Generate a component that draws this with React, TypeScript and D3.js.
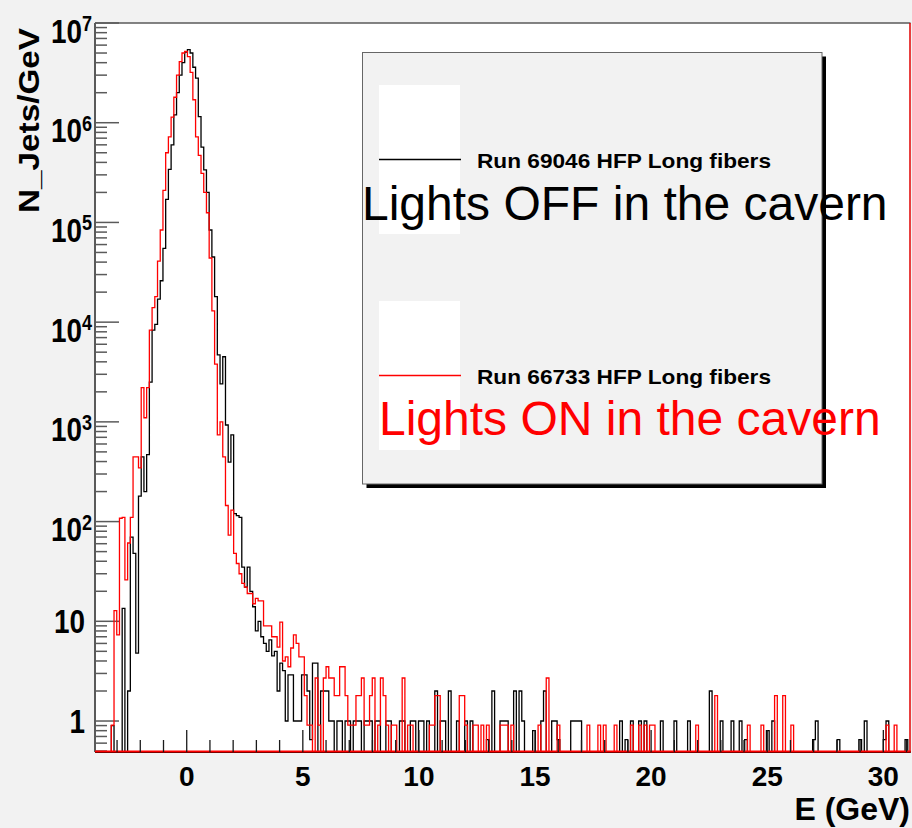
import React from "react";
import * as d3 from "d3";

// Canvas and histogram binning
const W = 912;
const H = 828;
const X_MIN = -3.95;
const X_MAX = 31.17;
const N_BINS = 300;
const Y_MIN = 0.489;
const Y_MAX = 1e7;

// Run 69046 (lights off): dense bins from the first bin, then sparse [bin, value] entries
const offCore = [
  0, 0, 0, 0, 0, 0, 0.9, 0, 0, 0,
  13.5, 0, 2, 70, 48, 4.8, 180, 445, 200, 470,
  2500, 8300, 9500, 17000, 26000, 55000, 170000, 340000, 600000, 1.2e6,
  2.0e6, 3.0e6, 4.0e6, 5.1e6, 5.4e6, 5.0e6, 3.6e6, 2.8e6, 1.15e6, 570000,
  336000, 200000, 84000, 45000, 18000, 4700, 2400, 4500, 930, 395,
  740, 120, 115, 110, 35, 22, 35, 20, 14, 8,
  10, 7, 6, 5, 6.5, 4.5, 5, 2, 3.8, 3.2,
  1, 2.9, 2.9, 1, 1, 1, 2.9, 2.9, 2, 0.65,
  3.8, 3.8, 0, 2, 2, 2, 1, 1, 0, 1,
  1, 0, 1, 1, 0, 1, 1, 1, 0, 1,
  1, 1, 0, 1, 1,
];
const offTail: [number, number][] = [
  [107, 1], [108, 1], [112, 1], [113, 1], [116, 1], [117, 1], [119, 1], [120, 1],
  [122, 1], [125, 2], [127, 1], [128, 1], [130, 2], [133, 1], [136, 1], [138, 1],
  [144, 0.65], [146, 2], [149, 1], [150, 1], [151, 1], [154, 2], [156, 2], [157, 1],
  [161, 0.8], [164, 1], [165, 2], [168, 1], [169, 1], [170, 0.65], [175, 1], [176, 1],
  [177, 1], [178, 1], [193, 1], [195, 0.65], [197, 1], [200, 1], [202, 1], [208, 1],
  [213, 1], [218, 1], [226, 2], [230, 1], [234, 1], [237, 1], [239, 0.65], [247, 0.8],
  [249, 1], [264, 0.65], [265, 1], [273, 0.65], [281, 0.65], [283, 1], [290, 0.65],
  [291, 1], [298, 0.65],
];

// Run 66733 (lights on)
const onCore = [
  0, 0, 0, 0, 0, 0, 0.91, 12.8, 7.3, 108,
  110, 26, 61, 110, 445, 445, 345, 2200, 1100, 2200,
  8300, 14000, 18000, 41000, 84000, 210000, 500000, 720000, 1.14e6, 1.8e6,
  3.0e6, 4.1e6, 5.0e6, 5.2e6, 4.6e6, 3.2e6, 1.7e6, 720000, 470000, 310000,
  200000, 125000, 44000, 13000, 3800, 740, 1000, 445, 145, 73,
  130, 48, 38, 30, 24, 22, 19, 19, 15, 17,
  16, 16, 9, 9, 9, 7, 7, 5.5, 9.8, 4,
  4.4, 3.5, 5.4, 7.3, 6, 4.4, 4.4, 1.8, 0.91, 0.91,
  0, 2.7, 0.91, 0, 2.7, 3.5, 2.7, 2.7, 1.8, 1.8,
  3.5, 3.5, 1.8, 0.91, 0.91, 0.91, 1.8, 1.8, 2.7, 0.91,
  0.91, 1.8, 2.7, 0, 0.91, 2.7, 1.8, 0.91, 0, 0.91,
  0.91,
];
const onTail: [number, number][] = [
  [113, 2.7], [115, 0.91], [116, 0.91], [123, 0.91], [124, 0.91], [125, 1.8], [126, 1.8],
  [134, 1.8], [135, 1.8], [136, 0.91], [139, 0.91], [140, 0.91], [142, 0.91], [144, 0.91],
  [149, 0.91], [150, 0.91], [151, 0.91], [153, 0.91], [163, 0.91], [166, 2.7], [170, 0.91],
  [181, 0.91], [185, 0.91], [187, 0.91], [191, 0.91], [197, 0.91], [200, 0.91], [202, 0.91],
  [204, 0.91], [205, 0.91], [221, 0.91], [228, 1.8], [240, 0.91], [245, 0.91], [250, 1.8],
  [253, 1.8], [256, 0.91], [291, 0.91], [294, 0.91],
];

const xMajorTicks = [0, 5, 10, 15, 20, 25, 30];
const yDecades = [0, 1, 2, 3, 4, 5, 6, 7];

const legendEntries = [
  { run: "Run 69046 HFP Long fibers", note: "Lights OFF in the cavern", color: "#000000" },
  { run: "Run 66733 HFP Long fibers", note: "Lights ON in the cavern", color: "#ff0000" },
];

function fillBins(core: number[], tail: [number, number][]) {
  const bins = new Array(N_BINS).fill(0);
  core.forEach((v, i) => (bins[i] = v));
  tail.forEach(([i, v]) => (bins[i] = v));
  return bins;
}

const FONT = "'Liberation Sans', Arial, Helvetica, sans-serif";

export default function App() {
  const left = 95;
  const right = 910.5;
  const top = 23;
  const bottom = 752;

  const x = d3.scaleLinear().domain([X_MIN, X_MAX]).range([left, right]);
  const y = d3.scaleLog().domain([Y_MIN, Y_MAX]).range([bottom, top]).clamp(true);
  const bw = (X_MAX - X_MIN) / N_BINS;

  const stepPath = (bins: number[]) => {
    const pts: [number, number][] = [[X_MIN, Y_MIN]];
    bins.forEach((v, i) => pts.push([X_MIN + i * bw, Math.max(v, Y_MIN)]));
    pts.push([X_MAX, Math.max(bins[N_BINS - 1], Y_MIN)]);
    pts.push([X_MAX, Y_MIN]);
    return (
      d3
        .line<[number, number]>()
        .x((d) => x(d[0]))
        .y((d) => y(d[1]))
        .curve(d3.curveStepAfter)(pts) || ""
    );
  };

  const offBins = fillBins(offCore, offTail);
  const onBins = fillBins(onCore, onTail);

  const xMinor = d3.range(-3, 32, 1).filter((v) => !xMajorTicks.includes(v));
  const yMinor: number[] = [];
  for (let d = -1; d < 7; d++) {
    for (let m = 2; m <= 9; m++) {
      const v = m * Math.pow(10, d);
      if (v >= Y_MIN && v < Y_MAX) yMinor.push(v);
    }
  }

  const axisGray = "#5a5a5a";

  // legend geometry
  const lg = { x: 362.5, y: 52.5, w: 459.5, h: 431.5 };

  return (
    <svg
      width={W}
      height={H}
      style={{ position: "absolute", left: 0, top: 0, display: "block" }}
      fontFamily={FONT}
    >
      <rect x={0} y={0} width={W} height={H} fill="#f2f2f2" />
      <rect x={left} y={top} width={right - left} height={bottom - top} fill="#ffffff" />

      {/* frame */}
      <line x1={left} x2={right} y1={top} y2={top} stroke={axisGray} strokeWidth={1.5} />
      <line x1={left} x2={left} y1={top} y2={bottom} stroke={axisGray} strokeWidth={2} />

      {/* y ticks */}
      {yDecades.map((d) => (
        <line key={"ym" + d} x1={left} x2={left + 24} y1={y(Math.pow(10, d))} y2={y(Math.pow(10, d))} stroke={axisGray} strokeWidth={1.5} />
      ))}
      {yMinor.map((v, i) => (
        <line key={"yn" + i} x1={left} x2={left + 12} y1={y(v)} y2={y(v)} stroke={axisGray} strokeWidth={1.5} />
      ))}

      {/* y tick labels */}
      {yDecades.map((d) => {
        const ty = y(Math.pow(10, d));
        if (d < 2) {
          return (
            <text key={"yl" + d} transform={`translate(85,${ty + 12}) scale(0.82,1)`} textAnchor="end" fontSize={34} fontWeight="bold" fill="#000">
              {d === 0 ? "1" : "10"}
            </text>
          );
        }
        return (
          <text key={"yl" + d} transform={`translate(92,${ty + 19.5}) scale(0.82,1)`} textAnchor="end" fontSize={34} fontWeight="bold" fill="#000">
            <tspan>10</tspan>
            <tspan dy={-11.5} fontSize={22}>{String(d)}</tspan>
          </text>
        );
      })}

      {/* histograms */}
      <path d={stepPath(offBins)} fill="none" stroke="#000000" strokeWidth={1.3} />
      <path d={stepPath(onBins)} fill="none" stroke="#ff0000" strokeWidth={1.3} />

      {/* x axis */}
      <line x1={left} x2={right} y1={bottom} y2={bottom} stroke="#000" strokeWidth={2} />
      <line x1={left} x2={right} y1={bottom - 0.5} y2={bottom - 0.5} stroke="#ff0000" strokeWidth={2} />
      <line x1={right - 0.5} x2={right - 0.5} y1={top} y2={bottom} stroke="#e00000" strokeWidth={1.5} />
      {xMajorTicks.map((t) => (
        <line key={"xm" + t} x1={x(t)} x2={x(t)} y1={bottom} y2={bottom - 22} stroke="#1a1a1a" strokeWidth={1.3} />
      ))}
      {xMinor.map((t) => (
        <line key={"xn" + t} x1={x(t)} x2={x(t)} y1={bottom} y2={bottom - 12} stroke="#1a1a1a" strokeWidth={1.3} />
      ))}
      {xMajorTicks.map((t) => (
        <text key={"xl" + t} x={x(t)} y={786} textAnchor="middle" fontSize={28} fontWeight="bold" fill="#000">
          {t}
        </text>
      ))}

      {/* axis titles */}
      <text x={910} y={820} textAnchor="end" fontSize={32} fontWeight="bold" fill="#000">
        E (GeV)
      </text>
      <text
        transform="translate(38.5,28) rotate(-90)"
        textAnchor="end"
        fontSize={30}
        fontWeight="bold"
        fill="#000"
        textLength={185}
        lengthAdjust="spacingAndGlyphs"
      >
        N_Jets/GeV
      </text>

      {/* legend */}
      <rect x={lg.x + 4} y={lg.y + 4} width={lg.w} height={lg.h} fill="#000" />
      <rect x={lg.x} y={lg.y} width={lg.w} height={lg.h} fill="#f2f2f2" stroke="#666" strokeWidth={1} />
      {legendEntries.map((e, i) => {
        const oy = i * 216;
        return (
          <g key={e.run}>
            <rect x={379} y={85 + oy} width={81} height={149} fill="#ffffff" />
            <line x1={379} x2={461} y1={159.5 + oy} y2={159.5 + oy} stroke={e.color} strokeWidth={1.3} />
            <text x={477} y={167.5 + oy} fontSize={21} fontWeight="bold" fill="#000" textLength={294} lengthAdjust="spacingAndGlyphs">
              {e.run}
            </text>
            <text x={i === 0 ? 362 : 379} y={220 + i * 215} fontSize={48} fill={e.color}>
              {e.note}
            </text>
          </g>
        );
      })}
    </svg>
  );
}
